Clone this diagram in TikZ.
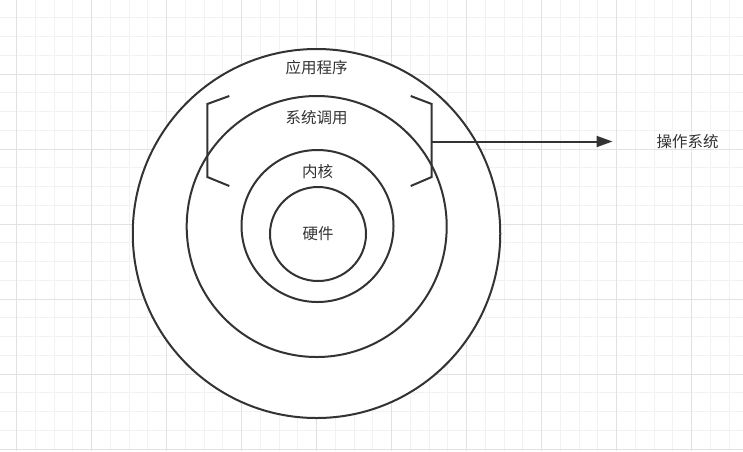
\documentclass[tikz,border=0pt]{standalone}
\usepackage{fontspec}
\newfontfamily\cjk{Noto Sans CJK SC}
\usetikzlibrary{shapes.geometric,arrows.meta}
\definecolor{ink}{HTML}{333333}
\definecolor{gminor}{HTML}{F2F2F2}
\definecolor{gmajor}{HTML}{E2E2E2}

\begin{document}
\begin{tikzpicture}[
    x=1pt, y=-1pt,
    ring/.style={draw=ink, line width=2pt, ellipse, inner sep=0pt, fill=white},
    lbl/.style={font=\cjk\fontsize{15.5}{16}\selectfont, text=ink, inner sep=0pt},
    bracket/.style={draw=ink, line width=2pt},
    arr/.style={-{Triangle[length=16pt,width=11pt]}, draw=ink, line width=2pt}
]
    \useasboundingbox (0,0) rectangle (743,451);
    \fill[white] (0,0) rectangle (743,451);

    % grid
    \foreach \i in {0,...,40}
        \draw[gminor, line width=1pt] ({-2.05+18.75*\i},0) -- ++(0,451);
    \foreach \i in {0,...,25}
        \draw[gminor, line width=1pt] (0,{-1+18.75*\i}) -- ++(743,0);
    \foreach \i in {0,...,9}
        \draw[gmajor, line width=1pt] ({16.7+75*\i},0) -- ++(0,451);
    \foreach \i in {0,...,6}
        \draw[gmajor, line width=1pt] (0,{-1+75*\i}) -- ++(743,0);

    % layers
    \node[ring, minimum width=367.5pt, minimum height=369pt] (app)     at (316.5,233.5) {};
    \node[ring, minimum width=260pt,   minimum height=261pt] (syscall) at (316.7,226.5) {};
    \node[ring, minimum width=152pt,   minimum height=152pt] (kernel)  at (317.5,226)   {};
    \node[ring, minimum width=96pt,    minimum height=94pt]  (hw)      at (318,234)     {};

    \node[lbl] (applbl)     at ([yshift=-20pt]app.north)     {应用程序};
    \node[lbl] (syscalllbl) at ([yshift=-23pt]syscall.north) {系统调用};
    \node[lbl] (kernellbl)  at ([yshift=-23pt]kernel.north)  {内核};
    \node[lbl] (hwlbl)      at (hw.center)                   {硬件};

    % operating system bracket
    \draw[bracket] (229.3,96) -- (207.3,104) -- (207.3,177) -- (229.3,186);
    \draw[bracket] (410.7,96) -- (431.7,104) -- (431.7,177) -- (410.7,186);
    \coordinate (osmid) at (431.7,141.5);

    \node[lbl] (os) at (687.7,141.5) {操作系统};
    \draw[arr] (osmid) -- ([xshift=-44pt]os.west);
\end{tikzpicture}
\end{document}
